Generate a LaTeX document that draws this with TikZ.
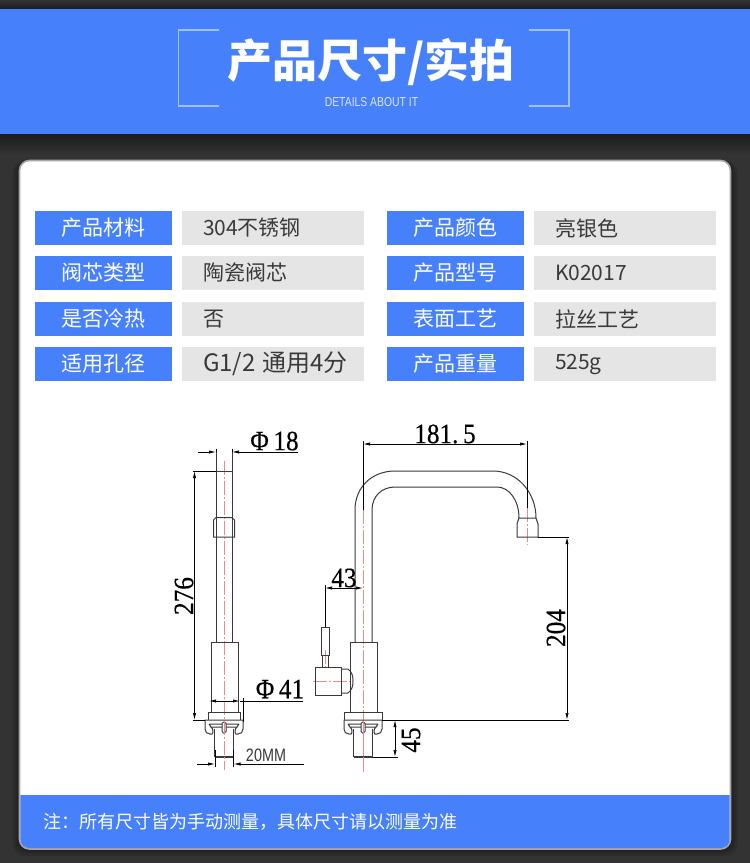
\documentclass[tikz,border=0pt]{standalone}
\usepackage{fontspec}
\usepackage{xcolor}
\setmainfont{Noto Sans CJK SC}
\newfontfamily\dimfont[FakeStretch=0.9,FakeBold=0.4]{Liberation Serif}
\newfontfamily\latinfont[FakeStretch=0.8]{Liberation Sans}
\usetikzlibrary{arrows.meta,positioning}
\definecolor{pageblue}{HTML}{4680FA}
\definecolor{pagedark}{HTML}{333333}
\definecolor{pageshade}{HTML}{1C1C1C}
\definecolor{cellgrey}{HTML}{E5E5E5}
\definecolor{inkgrey}{HTML}{3A3A3A}
\definecolor{centrered}{HTML}{F08A8A}
\tikzset{
  labelbox/.style={fill=pageblue, text=white, minimum width=137pt, minimum height=34pt, inner sep=0pt, font=\fontsize{21}{21}\selectfont},
  valuebox/.style={fill=cellgrey, text=inkgrey, text width=182pt, minimum height=34pt, inner xsep=0pt, inner ysep=0pt, align=left, font=\fontsize{21}{21}\selectfont},
  part/.style={draw=inkgrey, line width=1pt},
  centreline/.style={draw=centrered, line width=0.7pt, dash pattern=on 14pt off 2pt on 2pt off 2pt},
  dimline/.style={draw=black, line width=0.7pt, >={Latex[length=7pt,width=3.2pt]}},
  dimarrow/.style={dimline, <->},
  dimtext/.style={inner sep=0pt, text=black, font=\dimfont\fontsize{28}{28}\selectfont},
  tapbase/.pic={
    \draw[part] (-9.5,9) -- (-9.5,37) (9.5,9) -- (9.5,37);
    \draw[part, line width=1.4pt] (-9.5,37) -- (9.5,37);
    \draw[part] (-19,0) -- (-19,9) .. controls (-19,12) and (-17,14) .. (-14,14) -- (-12,14) .. controls (-10.5,13) and (-10.5,9) .. (-13,7) -- (13,7) .. controls (10.5,9) and (10.5,13) .. (12,14) -- (14,14) .. controls (17,14) and (19,12) .. (19,9) -- (19,0) -- cycle;
    \draw[part] (-15,4) -- (15,4) (-15,4) -- (-13,7) (15,4) -- (13,7);
    \draw[part, fill=white, rounded corners=1.5pt] (-2,2) rectangle (2,13);
  }
}
\begin{document}
\begin{tikzpicture}[x=1pt, y=-1pt]
  \useasboundingbox (0,0) rectangle (750,863);
  % page and banner
  \fill[pagedark] (0,0) rectangle (750,863);
  \fill[top color=pageshade, bottom color=pagedark] (0,134) rectangle (750,154);
  \fill[top color=pagedark, bottom color=pageshade] (0,0) rectangle (750,9);
  \fill[pageblue] (0,9) rectangle (750,134);
  \draw[white!50!pageblue, line width=1.3pt] (219,30) -- (178.5,30) -- (178.5,106) -- (219,106);
  \draw[white!50!pageblue, line width=1.3pt] (529,30) -- (569,30) -- (569,106) -- (529,106);
  \node[text=white, inner sep=0pt, font=\fontsize{45}{45}\selectfont\bfseries] (title) at (371,62) {产品尺寸/实拍};
  \node[text=white!80!pageblue, inner sep=0pt, font=\latinfont\fontsize{13}{13}\selectfont] (subtitle) at (371.5,102) {DETAILS ABOUT IT};

  % white card with the footer
  \foreach \grow in {1,3,5,7}
    \fill[black, opacity=0.1, rounded corners=12pt] (19.5-\grow,160.5) rectangle (730.5+\grow,849+\grow);
  \draw[draw=black!35!white, fill=white, line width=1.6pt, rounded corners=10pt] (19.5,160.5) rectangle (730.5,849);
  \fill[pageblue] (20.3,795) -- (729.7,795) [rounded corners=9pt] -- (729.7,848.2) -- (20.3,848.2) [sharp corners] -- cycle;
  \node[text=white, anchor=west, inner sep=0pt, font=\fontsize{18}{18}\selectfont] (note) at (43,822) {注\char"FF1A 所有尺寸皆为手动测量\char"FF0C 具体尺寸请以测量为准};

  % spec table
  \foreach \row/\ypos/\namea/\vala/\nameb/\valb in {
      1/228/产品材料/304不锈钢/产品颜色/亮银色,
      2/273/阀芯类型/陶瓷阀芯/产品型号/K02017,
      3/319/是否冷热/否/表面工艺/拉丝工艺,
      4/364/适用孔径/{\fontsize{24}{24}\selectfont G1/2 通用4分}/产品重量/525g}{
    \node[labelbox] (namea\row) at (103.5,\ypos) {\raisebox{-1pt}{\namea}};
    \node[valuebox] (vala\row) at (273,\ypos) {\hspace*{21pt}\raisebox{-0.5pt}{\vala}};
    \node[labelbox] (nameb\row) at (455.5,\ypos) {\raisebox{-1pt}{\nameb}};
    \node[valuebox] (valb\row) at (625,\ypos) {\hspace*{21pt}\raisebox{-0.5pt}{\valb}};
  }

  % front view
  \path[centreline] (224.5,461) -- (224.5,770);
  \draw[part] (216,449) -- (216,642) (232,449) -- (232,642) (216,471) -- (232,471);
  \draw[part] (213.5,537) -- (213.5,520) -- (216,517.5) -- (232,517.5) -- (234.5,520) -- (234.5,537) -- cycle;
  \draw[part] (211,712) -- (211,642) -- (238,642) -- (238,712);
  \draw[part] (208,720) -- (208,712) -- (240,712) -- (240,720);
  \pic at (224,720) {tapbase};
  \path[centreline] (224.5,721) -- (224.5,770);

  \draw[dimline] (216,449) -- (216,452) (232,449) -- (232,452);
  \draw[dimline, ->] (198,452) -- (216,452);
  \draw[dimline, ->] (298,452) -- (232,452);
  \node[dimtext] (phia) at (274.5,441) {Φ\,18};

  \draw[dimline] (193,471) -- (216,471) (193,720) -- (205,720);
  \draw[dimarrow] (194.5,471) -- (194.5,720);
  \node[dimtext, rotate=90] (height) at (184,596) {276};

  \draw[dimline] (243,698) -- (243,722);
  \draw[dimarrow] (209,701) -- (240,701);
  \draw[dimline] (240,701) -- (303,701);
  \node[dimtext] (phib) at (280,689) {Φ\,41};

  \draw[dimline] (215,750) -- (215,767) (233.5,750) -- (233.5,767);
  \draw[dimline, ->] (197,764) -- (215,764);
  \draw[dimline, ->] (304,764) -- (233.5,764);
  \node[inner sep=0pt, text=inkgrey, font=\latinfont\fontsize{18}{18}\selectfont] (hole) at (266,755) {20MM};

  % side view
  \path[centreline] (363,510) -- (363,772);
  \path[centreline] (527,508) -- (527,545);
  \path[centreline] (313,681) -- (353,681);
  \path[centreline] (325,650) -- (325,667);
  \draw[part] (355,642) -- (355,510) .. controls (355,487) and (372,471) .. (395,471) -- (493,471) .. controls (517,471) and (536,492) .. (536,518);
  \draw[part] (372,642) -- (372,510) .. controls (372,496) and (382,487) .. (395,487) -- (497,487) .. controls (509,487) and (519,500) .. (519,518);
  \draw[part] (519,518) -- (536,518) -- (538,524) -- (538,537) -- (517,537) -- (517,524) -- cycle;
  \draw[part] (350,712) -- (350,642) -- (377,642) -- (377,712);
  \draw[part] (344,720) -- (344,712) -- (382,712) -- (382,720);
  \pic at (363,720) {tapbase};
  \path[centreline] (363,721) -- (363,772);
  % handle
  \draw[part] (321,627) rectangle (329,655);
  \draw[part] (322,655) -- (322,667) (328,655) -- (328,667);
  \draw[part] (315,667) rectangle (341,695);
  \draw[part] (341,669) -- (348,669) .. controls (352,672) and (353,676) .. (353,681) .. controls (353,686) and (352,690) .. (348,693) -- (341,693);

  \draw[dimline] (363,441) -- (363,510) (527,441) -- (527,508);
  \draw[dimarrow] (363,444) -- (527,444);
  \node[dimtext] (reach) at (445,434) {181.\,5};

  \draw[dimline] (538,537) -- (569,537) (382,720) -- (569,720);
  \draw[dimarrow] (567,537) -- (567,720);
  \node[dimtext, rotate=90] (spout) at (556,628) {204};

  \draw[dimline] (373,757) -- (398,757);
  \draw[dimarrow] (395,720) -- (395,757);
  \node[dimtext, rotate=90] (shank) at (411,740) {45};

  \draw[dimline] (325,585) -- (325,627);
  \draw[dimarrow] (325,588) -- (363,588);
  \node[dimtext] (lever) at (344,578) {43};
\end{tikzpicture}
\end{document}
